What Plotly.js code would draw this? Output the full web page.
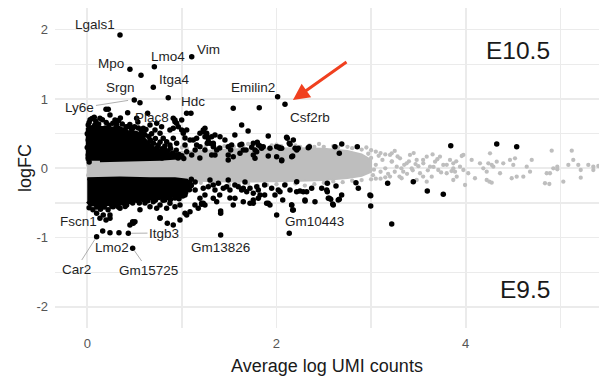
<!DOCTYPE html>
<html>
<head>
<meta charset="utf-8">
<script src="https://cdn.plot.ly/plotly-3.0.1.min.js"></script>
<style>html,body{margin:0;padding:0;background:#fff;}#chart{width:599px;height:380px;}</style>
</head>
<body>
<div id="chart"></div>
<script>
// ---------------- DATA ----------------
// Dense core of non-significant genes (envelope of the grey cloud)
const bandX     = [0.0, 0.25, 0.5, 0.75, 1.0, 1.25, 1.5, 1.75, 2.0, 2.25, 2.5, 2.75, 2.9, 3.0];
const bandUpper = [0.16, 0.18, 0.2, 0.22, 0.24, 0.26, 0.27, 0.28, 0.29, 0.29, 0.28, 0.25, 0.2, 0.12];
const bandLower = [-0.15, -0.15, -0.16, -0.17, -0.17, -0.18, -0.19, -0.19, -0.19, -0.18, -0.17, -0.14, -0.11, -0.05];

// Sparse non-significant genes (grey)
const nsPts = [
 [0.01,0.12],[0.01,-0.1],[0.02,0.0],[0.01,0.05],[0.02,-0.05],
 [0.95,0.27],[1.05,0.29],[1.15,0.28],[1.25,0.31],[1.35,0.3],[1.45,0.32],[1.55,0.31],[1.65,0.32],[1.75,0.33],[1.85,0.31],
 [1.95,0.33],[2.05,0.32],[2.15,0.34],[2.25,0.31],[2.35,0.33],[2.5,0.31],[2.65,0.3],[2.75,0.31],[2.9,0.27],[3.05,0.24],[3.15,0.2],
 [1.0,0.3],[1.2,0.32],[1.5,0.33],[1.7,0.35],[2.0,0.34],[2.2,0.33],[2.4,0.31],[2.6,0.32],[2.8,0.29],[3.0,0.26],[3.1,0.22],
 [1.0,-0.2],[1.2,-0.21],[1.4,-0.22],[1.5,-0.24],[1.7,-0.22],[1.8,-0.25],[2.0,-0.23],[2.2,-0.22],[2.5,-0.21],[2.6,-0.19],
 [2.8,-0.18],[3.0,-0.16],[3.2,-0.12],
 [1.3,-0.22],[1.6,-0.23],[1.9,-0.24],[2.1,-0.23],[2.4,-0.23],[2.7,-0.2],[2.9,-0.17],[3.05,-0.15],[3.15,-0.13],
 [2.45,0.35],[2.95,0.3],[1.1,-0.2],[0.8,-0.19],[2.3,-0.25],[2.55,-0.22],[2.85,0.31],[3.1,-0.15],
 [3.0,0.15],[3.05,0.05],[3.1,-0.05],[3.12,0.12],[3.15,0.0],[3.18,-0.08],[3.02,-0.1],[3.08,0.18],[2.97,0.21],[3.03,-0.02],
 [3.22,0.1],[3.25,-0.05],[3.28,0.17],[3.32,0.0],[3.38,-0.08],[3.4,0.1],[3.44,-0.03],[3.47,0.06],[3.55,0.12],[3.6,-0.03],
 [3.66,0.02],[3.7,0.13],[3.74,-0.06],[3.8,0.05],[3.85,-0.04],[3.9,0.1],
 [3.2,0.192],[3.218,0.095],[3.271,0.023],[3.306,0.144],[3.34,-0.049],[3.376,0.072],[3.411,0.192],[3.429,0.0],
 [3.482,0.12],[3.517,-0.072],[3.552,0.072],[3.588,0.167],[3.623,0.023],[3.641,-0.121],[3.676,0.095],[3.71,-0.025],
 [3.728,0.167],[3.763,0.048],[3.799,-0.072],[3.834,0.12],[3.869,0.0],[3.588,-0.193],[3.482,-0.169],[3.218,0.216],[3.323,-0.144],
 [3.25,0.25],[3.3,-0.12],[3.45,0.22],[3.55,-0.12],[3.65,0.2],[3.35,0.05],[3.5,0.03],
 [3.975,0.192],[3.958,0.177],[3.869,0.072],[3.887,-0.049],[3.905,-0.121],[3.869,-0.169],[3.94,0.023],[3.975,-0.025],
 [3.993,-0.241],[4.027,-0.072],[4.063,0.12],[4.098,-0.144],[4.151,0.072],[4.186,0.0],[4.222,-0.049],[4.239,0.072],
 [4.257,0.216],[4.275,0.048],[4.292,0.023],[4.222,-0.169],[4.25,-0.193],[4.275,-0.208],[4.328,0.095],[4.363,-0.072],
 [4.397,0.072],[4.468,0.12],[4.503,0.048],[4.521,0.144],[4.486,-0.144],[4.539,-0.121],[4.609,-0.121],[4.645,0.023],
 [4.68,-0.049],[4.698,0.12],[4.856,-0.072],[4.891,-0.072],[4.838,-0.216],[4.884,-0.227],[4.909,0.254],[4.926,0.0],
 [4.968,0.023],[4.968,-0.014],[5.032,-0.193],[5.085,0.048],[5.121,0.254],[5.137,0.12],[5.19,0.048],[5.216,-0.025],
 [5.216,-0.136],[5.296,0.048],[5.349,0.023],[5.402,0.033],[5.349,-0.025]
];

// Dense cores of significant genes (black)
const upCoreX = [0.0, 0.0, 0.06, 0.134, 0.24, 0.325, 0.43, 0.52, 0.58, 0.64, 0.72, 0.85, 0.95, 0.767, 0.451, 0.134];
const upCoreY = [0.11, 0.57, 0.61, 0.59, 0.57, 0.6, 0.53, 0.52, 0.46, 0.37, 0.28, 0.22, 0.15, 0.13, 0.12, 0.11];
const downCoreX = [0.0, 0.346, 0.663, 0.927, 1.05, 1.07, 1.0, 0.767, 0.557, 0.40, 0.19, 0.03, 0.0];
const downCoreY = [-0.15, -0.14, -0.15, -0.15, -0.17, -0.29, -0.39, -0.42, -0.45, -0.5, -0.53, -0.53, -0.48];

// Significant genes higher at E10.5
const sigUpPts = [
 [0.856,1.019],[0.568,1.342],[1.096,0.794],[1.543,0.866],[1.818,0.874],[0.427,0.80],[0.198,0.851],[0.222,0.851],[0.074,0.736],
 [1.632,0.625],[1.70,0.538],[2.107,0.447],
 [0.134,0.722],[0.24,0.769],[0.293,0.697],[0.433,0.60],[0.522,0.722],[0.592,0.577],[0.734,0.649],[0.786,0.60],[0.909,0.722],
 [0.927,0.672],[0.945,0.649],[0.998,0.697],[0.909,0.577],[1.015,0.505],[1.051,0.553],[1.191,0.505],[1.226,0.553],[1.244,0.456],
 [1.315,0.456],[1.35,0.481],[1.403,0.456],[1.086,0.408],[1.156,0.433],[1.279,0.384],[1.332,0.361],[1.49,0.312],[1.614,0.336],
 [1.649,0.264],[1.49,0.192],[1.543,0.167],[1.755,0.361],[1.808,0.336],[1.86,0.312],[1.791,0.24],[1.931,0.289],[2.002,0.312],
 [2.055,0.289],[2.002,0.167],[2.178,0.408],
 [1.244,0.577],[1.226,0.528],[1.262,0.481],[1.279,0.433],[1.268,0.361],[1.332,0.336],[1.913,0.466],[1.526,0.336],[1.516,0.264],
 [1.632,0.346],[1.678,0.264],[1.738,0.303],[1.773,0.264],[1.797,0.375],[1.826,0.322],[1.843,0.289],[2.026,0.303],[2.114,0.433],
 [2.143,0.346],[2.214,0.264],[2.336,0.297],[1.315,0.192],[1.49,0.12],[1.614,0.216],[1.913,0.177],[2.055,0.11],[2.161,0.167],
 [1.755,0.192],[1.773,0.144],
 [2.135,0.361],[2.196,0.289],[2.23,0.289],[2.347,0.312],[2.171,0.177],[2.037,0.289],[2.055,0.12],[2.618,0.312],[2.69,0.351],
 [2.664,0.216],[2.854,0.312],[3.842,0.326],[4.328,0.351],[4.539,0.312],
 [0.874,0.553],[0.927,0.697],[0.962,0.60],[0.998,0.553],[0.769,0.505],[0.803,0.433],[0.839,0.384],[0.874,0.336],[0.909,0.433],
 [0.945,0.361],[1.12,0.408],[1.156,0.336],[1.191,0.312],[1.262,0.505],[1.297,0.361],[1.332,0.312],[1.368,0.264],[1.051,0.24],
 [1.104,0.192],[0.98,0.167],
 [0.03,0.70],[0.08,0.625],[0.19,0.58],[0.35,0.726],[0.40,0.553],[0.48,0.58],[0.535,0.668],[0.61,0.48],[0.663,0.625],[0.716,0.553],
 [0.663,0.408],[0.61,0.264],[0.716,0.192],[0.82,0.264],[0.557,0.48],[0.75,0.336],[0.64,0.149],[0.79,0.149],[0.927,0.192],
 [1.033,0.336],[1.14,0.264],[1.244,0.264],[1.40,0.293],[1.35,0.192],[1.19,0.149],[1.455,0.408],[1.56,0.48],[1.033,0.437],
 [0.01,0.625],[0.01,0.408],[0.01,0.19],[0.02,0.09],
 [0.02,0.66],[0.05,0.72],[0.09,0.68],[0.12,0.64],[0.16,0.7],[0.2,0.66],[0.23,0.62],[0.27,0.65],[0.31,0.63],[0.33,0.69],
 [0.37,0.64],[0.41,0.6],[0.45,0.63],[0.47,0.56],[0.5,0.6],[0.54,0.58],[0.57,0.54],[0.6,0.5],[0.62,0.56],[0.65,0.46],
 [0.68,0.5],[0.67,0.4],[0.7,0.36],[0.72,0.43],[0.74,0.3],[0.77,0.38],[0.79,0.28],[0.82,0.32],[0.85,0.25],[0.88,0.29],
 [0.9,0.22],[0.94,0.26],[0.97,0.2],[1.0,0.18],[0.96,0.15],[1.02,0.14],[0.0,0.5],[0.0,0.3],[0.01,0.15]
];

// Significant genes higher at E9.5
const sigDownPts = [
 [1.226,-0.289],[1.279,-0.266],[1.332,-0.241],[1.35,-0.313],[1.385,-0.216],[1.438,-0.289],[1.49,-0.169],[1.473,-0.266],
 [1.508,-0.313],[1.332,-0.433],[1.209,-0.519],[1.244,-0.53],[1.41,-0.616],[1.41,-0.649],[1.596,-0.266],[1.632,-0.313],
 [1.649,-0.289],[1.685,-0.338],[1.72,-0.289],[1.755,-0.361],[1.791,-0.266],[1.808,-0.313],[1.826,-0.385],[1.561,-0.433],
 [1.649,-0.482],[1.72,-0.505],[1.755,-0.457],[1.808,-0.433],[1.913,-0.505],[1.931,-0.53],[1.949,-0.289],[2.019,-0.313],
 [2.037,-0.338],[2.002,-0.674],[2.066,-0.457],[2.143,-0.313],[2.214,-0.193],[2.248,-0.328],[2.319,-0.338],[2.372,-0.289],
 [2.161,-0.53],[2.171,-0.602],[2.301,-0.457],[2.407,-0.482],[2.548,-0.433],[2.478,-0.289],[2.537,-0.216],[2.531,-0.313],
 [2.537,-0.338],[2.558,-0.433],[2.629,-0.255],[2.60,-0.53],[2.653,-0.457],[2.689,-0.385],[2.84,-0.208],[2.865,-0.289],
 [2.996,-0.395],[2.996,-0.544],[3.175,-0.216],[3.446,-0.193],[3.594,-0.328],[3.763,-0.375],[3.218,-0.804],
 [1.086,-0.626],[1.051,-0.674],[0.98,-0.53],[0.927,-0.554],[0.874,-0.505],[0.839,-0.577],[0.769,-0.53],[0.734,-0.577],
 [0.698,-0.482],[0.663,-0.554],[0.769,-0.713],[0.846,-0.794],[0.48,-0.771],[0.451,-0.818],[1.138,-0.53],[1.191,-0.433],
 [1.173,-0.577],[1.226,-0.505],[0.099,-0.649],[0.169,-0.674],[0.24,-0.721],[0.275,-0.554],[0.346,-0.577],[0.416,-0.53],
 [0.198,-0.746],[0.24,-0.674],[0.504,-0.771],[0.486,-0.794],[0.769,-0.721],[0.909,-0.818],[0.98,-0.746],[1.033,-0.649],
 [1.209,-0.505],[1.368,-0.482],[1.543,-0.53],[1.755,-0.505],[1.896,-0.505],[2.178,-0.602],
 [0.24,-0.929],[0.335,-0.929],
 [0.134,-0.53],[0.293,-0.457],[0.451,-0.428],[0.61,-0.50],[0.557,-0.60],[0.82,-0.457],[0.927,-0.428],[1.033,-0.385],
 [1.14,-0.313],[1.14,-0.198],[1.086,-0.24],[1.244,-0.385],[1.297,-0.169],[1.40,-0.385],[1.56,-0.241],[1.667,-0.198],
 [1.875,-0.241],[1.984,-0.385],[2.088,-0.241],[1.875,-0.385],[1.508,-0.428],
 [2.213,-0.338],[2.283,-0.338],[2.302,-0.472],[2.16,-0.53],[2.573,-0.447],[2.664,-0.447],[2.594,-0.515],[2.988,-0.385],
 [0.02,-0.57],[0.06,-0.6],[0.1,-0.56],[0.14,-0.59],[0.18,-0.56],[0.22,-0.6],[0.26,-0.55],[0.3,-0.52],[0.33,-0.56],[0.37,-0.5],
 [0.4,-0.55],[0.44,-0.48],[0.48,-0.5],[0.52,-0.46],[0.55,-0.5],[0.59,-0.45],[0.64,-0.47],[0.68,-0.43],[0.72,-0.46],[0.76,-0.42],
 [0.8,-0.46],[0.84,-0.42],[0.88,-0.45],[0.93,-0.41],[0.97,-0.44],[1.01,-0.4],[1.04,-0.35],[1.08,-0.31],[1.1,-0.25],[1.08,-0.2],
 [1.1,-0.16],[1.05,-0.28]
];

// Labelled genes
const geneNames = ["Lgals1","Vim","Lmo4","Mpo","Itga4","Srgn","Ly6e","Plac8","Hdc","Emilin2","Csf2rb",
                   "Fscn1","Itgb3","Lmo2","Car2","Gm15725","Gm13826","Gm10443"];
const geneX = [0.346,1.104,0.709,0.451,0.698,0.557,0.497,0.638,1.05,2.012,2.09,
               0.134,0.434,0.163,0.099,0.48,1.41,2.135];
const geneY = [1.924,1.61,1.466,1.428,1.169,0.947,0.986,0.794,0.794,1.033,0.923,
               -0.721,-0.938,-0.905,-0.987,-1.154,-0.962,-0.938];

const xTicks = [0, 2, 4];
const yTicks = [-2, -1, 0, 1, 2];
const yTickText = ["-2", "-1", "0", "1", "2"];

// ---------------- LAYOUT HELPERS (label placement) ----------------
const labelPos = {
  Lgals1:[0.082,2.069], Vim:[1.286,1.707], Lmo4:[0.853,1.62], Mpo:[0.251,1.505], Itga4:[0.917,1.288],
  Srgn:[0.356,1.166], Ly6e:[-0.077,0.87], Plac8:[0.684,0.74], Hdc:[1.117,0.957], Emilin2:[1.751,1.173],
  Csf2rb:[2.354,0.74], Fscn1:[-0.088,-0.775], Itgb3:[0.811,-0.934], Lmo2:[0.261,-1.136], Car2:[-0.119,-1.454],
  Gm15725:[0.642,-1.468], Gm13826:[1.403,-1.136], Gm10443:[2.397,-0.775]
};
const segmentTo = { Ly6e:[0.463,0.986], Itgb3:[0.434,-0.938], Car2:[0.099,-0.987], Gm15725:[0.48,-1.154] };

const GREY = '#bebebe';
const traces = [];
traces.push({
  type:'scatter', mode:'lines', hoverinfo:'skip',
  x: bandX.concat(bandX.slice().reverse()),
  y: bandUpper.concat(bandLower.slice().reverse()),
  fill:'toself', fillcolor:GREY, line:{color:GREY, width:2}
});
traces.push({
  type:'scatter', mode:'markers', hoverinfo:'skip',
  x: nsPts.map(p=>p[0]), y: nsPts.map(p=>p[1]),
  marker:{color:GREY, size:4.3}
});
traces.push({
  type:'scatter', mode:'lines', hoverinfo:'skip',
  x: upCoreX, y: upCoreY, fill:'toself', fillcolor:'#000', line:{color:'#000', width:3}
});
traces.push({
  type:'scatter', mode:'lines', hoverinfo:'skip',
  x: downCoreX, y: downCoreY, fill:'toself', fillcolor:'#000', line:{color:'#000', width:3}
});
const allSig = sigUpPts.concat(sigDownPts);
traces.push({
  type:'scatter', mode:'markers', hoverinfo:'skip',
  x: allSig.map(p=>p[0]), y: allSig.map(p=>p[1]),
  marker:{color:'#000', size:5.5}
});
traces.push({
  type:'scatter', mode:'markers', hoverinfo:'skip',
  x: geneX, y: geneY, marker:{color:'#000', size:5.5}
});

const labelFont = {family:'Liberation Sans, Arial, sans-serif', size:13.5, color:'#1f1f1f'};
const annotations = geneNames.map(g => {
  const p = labelPos[g];
  if (segmentTo[g]) {
    const t = segmentTo[g];
    return {x:t[0], y:t[1], xref:'x', yref:'y', ax:p[0], ay:p[1], axref:'x', ayref:'y',
            text:g, font:labelFont, showarrow:true, arrowhead:0, arrowwidth:0.8,
            arrowcolor:'#9a9a9a', standoff:3};
  }
  return {x:p[0], y:p[1], xref:'x', yref:'y', text:g, font:labelFont, showarrow:false};
});
// red arrow to Csf2rb
annotations.push({x:2.174, y:0.986, xref:'x', yref:'y', ax:2.756, ay:1.548, axref:'x', ayref:'y',
  text:'', showarrow:true, arrowhead:2, arrowsize:1.1, arrowwidth:3, arrowcolor:'#f0401f'});
annotations.push({x:4.912, y:1.693, xref:'x', yref:'y', xanchor:'right', text:'E10.5', showarrow:false,
  font:{family:'Liberation Sans, Arial, sans-serif', size:24.5, color:'#1a1a1a'}});
annotations.push({x:4.912, y:-1.756, xref:'x', yref:'y', xanchor:'right', text:'E9.5', showarrow:false,
  font:{family:'Liberation Sans, Arial, sans-serif', size:24.5, color:'#1a1a1a'}});

const gridC = '#ebebeb';
const layout = {
  width:599, height:380,
  margin:{l:55, r:0, t:8, b:52},
  paper_bgcolor:'#fff', plot_bgcolor:'#fff',
  showlegend:false, hovermode:false,
  font:{family:'Liberation Sans, Arial, sans-serif'},
  xaxis:{
    range:[-0.341, 5.409], tickvals:xTicks, ticktext:xTicks.map(String),
    showgrid:true, gridcolor:gridC, gridwidth:1.6, zeroline:false, showline:false, ticks:'',
    minor:{dtick:1, tick0:0, showgrid:true, gridcolor:gridC, gridwidth:1.3},
    tickfont:{size:13, color:'#555'}, ticklabelstandoff:6,
    title:{text:'Average log UMI counts', font:{size:18, color:'#1a1a1a'}, standoff:9}
  },
  yaxis:{
    range:[-2.305, 2.313], tickvals:yTicks, ticktext:yTickText,
    showgrid:true, gridcolor:gridC, gridwidth:1.6, zeroline:false, showline:false, ticks:'',
    minor:{dtick:0.5, tick0:0, showgrid:true, gridcolor:gridC, gridwidth:1.3},
    tickfont:{size:13, color:'#555'}, ticklabelstandoff:6,
    title:{text:'logFC', font:{size:18, color:'#1a1a1a'}, standoff:0}
  },
  annotations: annotations
};
Plotly.newPlot('chart', traces, layout, {displayModeBar:false, staticPlot:true});
</script>
</body>
</html>
